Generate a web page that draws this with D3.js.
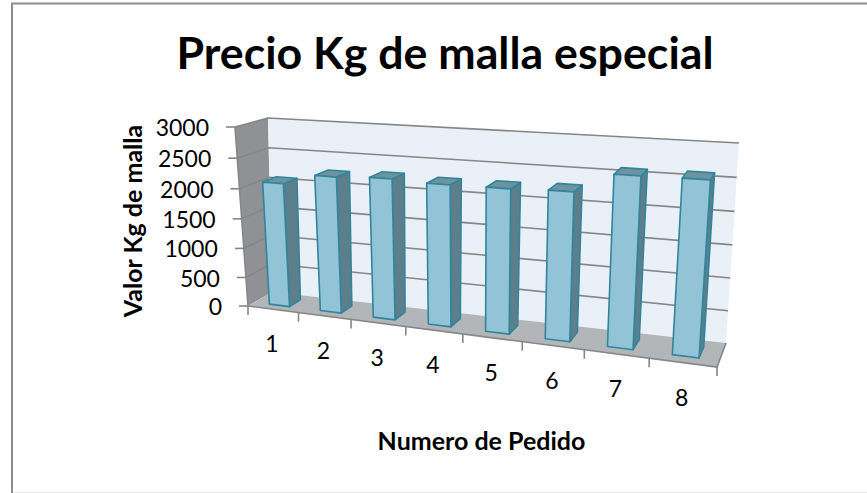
<!DOCTYPE html>
<html>
<head>
<meta charset="utf-8">
<script src="https://cdn.jsdelivr.net/npm/d3@7"></script>
<style>
  html, body { margin: 0; padding: 0; background: #fff; }
  text { font-family: Lato, "Open Sans", sans-serif; fill: #000; }
</style>
</head>
<body>
<script>
const width = 867;
const height = 493;

const categories = ["1", "2", "3", "4", "5", "6", "7", "8"];
const values = [2080, 2255, 2290, 2265, 2275, 2300, 2600, 2610];
const yTicks = [0, 500, 1000, 1500, 2000, 2500, 3000];

// box corners on screen: [u, v] = 00, 10, 11, 01
const frontPlane = [[248, 306], [717, 367], [732, 157], [235, 127]];
const backPlane = [[272, 292], [726, 343], [739, 143], [268, 118]];

// unit square to quad homography
function squareToQuad(q) {
  const [[x0, y0], [x1, y1], [x2, y2], [x3, y3]] = q;
  const dx1 = x1 - x2, dx2 = x3 - x2, sx = x0 - x1 + x2 - x3;
  const dy1 = y1 - y2, dy2 = y3 - y2, sy = y0 - y1 + y2 - y3;
  const den = dx1 * dy2 - dx2 * dy1;
  const g = (sx * dy2 - dx2 * sy) / den;
  const h = (dx1 * sy - sx * dy1) / den;
  const a = x1 - x0 + g * x1, b = x3 - x0 + h * x3;
  const d = y1 - y0 + g * y1, e = y3 - y0 + h * y3;
  return (u, v) => {
    const w = g * u + h * v + 1;
    return [(a * u + b * v + x0) / w, (d * u + e * v + y0) / w];
  };
}
const front = squareToQuad(frontPlane);
const back = squareToQuad(backPlane);

// u along categories, v up the value axis, w into the depth
function project(u, v, w) {
  const f = front(u, v), b = back(u, v);
  return [f[0] + (b[0] - f[0]) * w, f[1] + (b[1] - f[1]) * w];
}

const xScale = d3.scaleBand().domain(categories).range([0, 1]).paddingInner(0.6).paddingOuter(0.3);
const xStep = d3.scaleBand().domain(categories).range([0, 1]);
const yScale = d3.scaleLinear().domain([0, 3000]).range([0, 1]);
const zBar = [0.27, 0.73];

const line = d3.line();
const poly = pts => line(pts) + "Z";

const svg = d3.select("body").append("svg")
  .attr("width", width)
  .attr("height", height)
  .style("display", "block");

// chart frame: only top and left show, bottom is a faint line
svg.append("line")
  .attr("x1", 12).attr("x2", 12).attr("y1", 3).attr("y2", height)
  .attr("stroke", "#8c8c8c").attr("stroke-width", 2);
svg.append("line")
  .attr("x1", 11).attr("x2", width).attr("y1", 3.5).attr("y2", 3.5)
  .attr("stroke", "#8c8c8c").attr("stroke-width", 2);
svg.append("line")
  .attr("x1", 13).attr("x2", width).attr("y1", 492.5).attr("y2", 492.5)
  .attr("stroke", "#ececec").attr("stroke-width", 1);

svg.append("text")
  .attr("x", 445).attr("y", 69)
  .attr("text-anchor", "middle")
  .attr("font-size", 44.7).attr("font-weight", 700)
  .text("Precio Kg de malla especial");

// walls and floor
svg.append("path")
  .attr("d", poly([project(0, 0, 0), project(0, 1, 0), project(0, 1, 1), project(0, 0, 1)]))
  .attr("fill", "#8f9195");
svg.append("path")
  .attr("d", poly([project(0, 0, 1), project(1, 0, 1), project(1, 1, 1), project(0, 1, 1)]))
  .attr("fill", "#e9f0f7");
svg.append("path")
  .attr("d", poly([project(0, 0, 0), project(1, 0, 0), project(1, 0, 1), project(0, 0, 1)]))
  .attr("fill", "#b2b6b9");

// gridlines along left wall and back wall
svg.append("g").selectAll("path")
  .data(yTicks.filter(d => d > 0))
  .join("path")
  .attr("d", d => line([project(0, yScale(d), 0), project(0, yScale(d), 1), project(1, yScale(d), 1)]))
  .attr("fill", "none").attr("stroke", "#868686").attr("stroke-width", 1.6);

// axis lines and ticks
const axisColor = "#868686";
svg.append("path")
  .attr("d", line([project(0, 1, 0), project(0, 0, 0), project(1, 0, 0), project(1, 0, 1)]))
  .attr("fill", "none").attr("stroke", axisColor).attr("stroke-width", 1.6);

const yAxisG = svg.append("g");
yAxisG.selectAll("line")
  .data(yTicks)
  .join("line")
  .attr("x1", d => project(0, yScale(d), 0)[0] - 9)
  .attr("x2", d => project(0, yScale(d), 0)[0])
  .attr("y1", d => project(0, yScale(d), 0)[1])
  .attr("y2", d => project(0, yScale(d), 0)[1])
  .attr("stroke", axisColor).attr("stroke-width", 1.6);
yAxisG.selectAll("text")
  .data(yTicks)
  .join("text")
  .attr("x", d => project(0, yScale(d), 0)[0] - 26)
  .attr("y", d => project(0, yScale(d), 0)[1] + 1)
  .attr("dy", "0.35em")
  .attr("text-anchor", "end")
  .attr("font-size", 23)
  .text(d => d);

const xAxisG = svg.append("g");
const tickEdges = categories.map(c => xStep(c)).concat(1);
xAxisG.selectAll("line")
  .data(tickEdges)
  .join("line")
  .attr("x1", d => project(d, 0, 0)[0])
  .attr("x2", d => project(d, 0, 0)[0])
  .attr("y1", d => project(d, 0, 0)[1])
  .attr("y2", d => project(d, 0, 0)[1] + 9)
  .attr("stroke", axisColor).attr("stroke-width", 1.6);
xAxisG.selectAll("text")
  .data(categories)
  .join("text")
  .attr("x", d => project(xStep(d) + xStep.bandwidth() / 2, 0, 0)[0] - 1)
  .attr("y", d => project(xStep(d) + xStep.bandwidth() / 2, 0, 0)[1] + 35)
  .attr("dy", "0.35em")
  .attr("text-anchor", "middle")
  .attr("font-size", 23)
  .text(d => d);

// bars: side, top, front
const bars = svg.append("g").selectAll("g")
  .data(categories.map((c, i) => ({c, v: values[i]})))
  .join("g")
  .attr("stroke", "#31859c").attr("stroke-width", 1.6).attr("stroke-linejoin", "round");

const u0 = d => xScale(d.c);
const u1 = d => xScale(d.c) + xScale.bandwidth();
bars.append("path")
  .attr("d", d => poly([project(u1(d), 0, zBar[0]), project(u1(d), yScale(d.v), zBar[0]),
    project(u1(d), yScale(d.v), zBar[1]), project(u1(d), 0, zBar[1])]))
  .attr("fill", "#5d7f8b");
bars.append("path")
  .attr("d", d => poly([project(u0(d), yScale(d.v), zBar[0]), project(u1(d), yScale(d.v), zBar[0]),
    project(u1(d), yScale(d.v), zBar[1]), project(u0(d), yScale(d.v), zBar[1])]))
  .attr("fill", "#6e939f");
bars.append("path")
  .attr("d", d => poly([project(u0(d), 0, zBar[0]), project(u1(d), 0, zBar[0]),
    project(u1(d), yScale(d.v), zBar[0]), project(u0(d), yScale(d.v), zBar[0])]))
  .attr("fill", "#92c3d6");

// axis titles
svg.append("text")
  .attr("transform", "translate(142,221) rotate(-90)")
  .attr("text-anchor", "middle")
  .attr("font-size", 25).attr("font-weight", 700)
  .text("Valor Kg de malla");

svg.append("text")
  .attr("x", 481.5).attr("y", 450)
  .attr("text-anchor", "middle")
  .attr("font-size", 25).attr("font-weight", 700)
  .text("Numero de Pedido");
</script>
</body>
</html>
